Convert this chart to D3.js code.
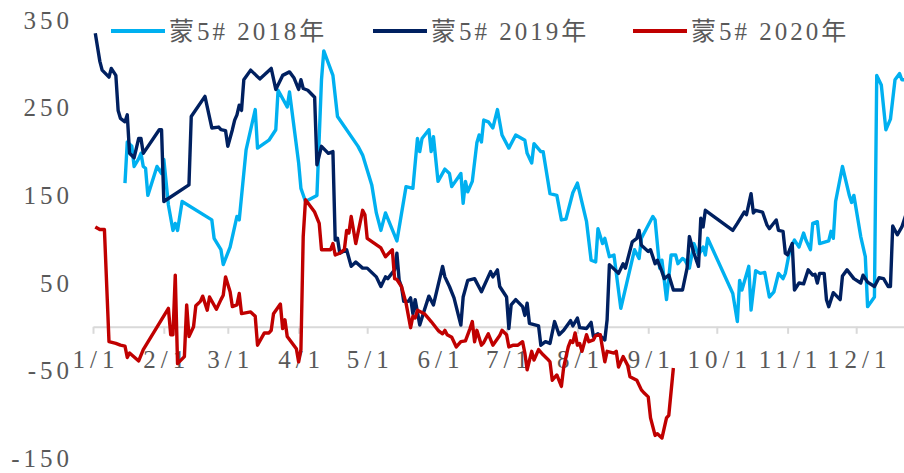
<!DOCTYPE html>
<html>
<head>
<meta charset="utf-8">
<script src="https://d3js.org/d3.v7.min.js"></script>
<style>
  body { margin: 0; background: #fff; }
  text { font-family: "Liberation Serif", "Noto Sans CJK SC", serif; fill: #595959; }
</style>
</head>
<body>
<div id="chart"></div>
<script>
// [day of year (0 = 1/1), spread]
const s2018 = [[14,164],[15,211],[17,206],[18,183],[20,192],[21,198],[22,183],[23,181],[24,150],[28,183],[30,175],[31,191],[33,139],[35,110],[36,118],[37,110],[39,143],[52,122],[53,101],[56,88],[57,71],[60,91],[63,126],[64,122],[67,202],[71,248],[72,204],[77,213],[80,225],[81,270],[85,251],[86,268],[90,187],[91,158],[93,143],[98,150],[100,282],[101,315],[105,287],[107,240],[116,206],[118,196],[120,179],[122,162],[124,130],[126,110],[128,130],[133,98],[137,160],[140,158],[142,215],[143,200],[144,215],[147,225],[148,200],[149,217],[151,166],[154,180],[156,175],[157,160],[161,175],[162,141],[163,166],[164,154],[166,166],[168,210],[169,219],[170,211],[171,236],[173,234],[175,227],[177,248],[179,219],[182,204],[185,219],[189,213],[190,198],[192,187],[193,209],[196,200],[197,200],[200,152],[203,150],[205,122],[207,123],[210,153],[212,164],[216,120],[218,76],[220,74],[221,112],[223,95],[224,101],[226,80],[228,82],[231,21],[237,88],[239,78],[240,101],[245,126],[246,122],[248,67],[249,76],[251,31],[253,82],[255,82],[256,72],[258,78],[259,76],[261,67],[263,95],[265,82],[267,91],[268,82],[269,101],[280,38],[282,6],[283,53],[284,42],[287,69],[288,19],[290,64],[292,61],[294,62],[296,34],[298,40],[300,61],[302,55],[303,61],[305,88],[307,99],[309,91],[311,107],[312,99],[314,88],[315,118],[317,120],[318,95],[322,98],[323,109],[324,101],[325,143],[328,183],[331,150],[332,142],[333,150],[336,103],[338,80],[339,23],[342,34],[343,287],[345,276],[347,225],[349,237],[351,282],[353,289],[354,282],[356,282]];

const s2019 = [[1,335],[3,303],[4,293],[7,285],[8,295],[10,287],[11,247],[12,238],[14,234],[15,242],[16,198],[18,193],[20,215],[21,215],[22,198],[29,225],[30,225],[31,143],[42,162],[43,240],[49,263],[52,227],[55,228],[56,225],[58,224],[59,206],[61,225],[62,236],[63,242],[64,253],[65,247],[66,282],[69,293],[73,283],[78,295],[80,271],[83,287],[86,291],[88,284],[90,271],[91,282],[92,272],[94,270],[97,262],[98,185],[100,206],[103,198],[105,200],[106,99],[107,101],[108,84],[111,88],[113,69],[115,74],[118,67],[120,67],[124,57],[126,46],[128,57],[129,55],[132,65],[133,84],[134,53],[135,46],[136,29],[138,29],[139,33],[140,15],[141,31],[143,2],[145,19],[147,35],[149,25],[153,69],[154,57],[156,46],[158,33],[161,2],[162,34],[164,53],[167,55],[170,40],[174,63],[175,57],[177,65],[178,46],[179,42],[181,34],[182,-2],[183,25],[185,31],[188,23],[189,13],[190,27],[191,4],[195,1],[196,-21],[198,-17],[200,-19],[202,6],[204,-9],[206,-4],[209,7],[210,1],[212,10],[213,-1],[216,-2],[218,5],[219,-11],[221,-8],[224,-15],[225,8],[226,71],[230,61],[232,72],[233,67],[236,97],[238,101],[239,110],[240,93],[243,86],[244,88],[246,72],[247,76],[249,63],[250,55],[252,59],[254,42],[258,42],[260,67],[261,103],[263,84],[265,69],[266,124],[267,114],[268,133],[280,110],[282,118],[285,131],[286,128],[288,152],[289,130],[290,133],[293,131],[295,116],[296,112],[299,122],[300,110],[302,109],[303,84],[304,82],[306,95],[307,42],[309,50],[311,49],[313,65],[315,59],[316,60],[317,50],[318,61],[320,61],[321,31],[322,23],[324,39],[327,31],[328,58],[330,65],[333,55],[336,50],[337,59],[339,51],[342,46],[344,56],[346,55],[348,46],[349,46],[350,115],[352,105],[354,114],[356,130]];

const s2020 = [[1,114],[3,111],[5,111],[7,-17],[10,-19],[12,-21],[14,-22],[15,-35],[16,-30],[20,-39],[22,-26],[33,21],[34,-9],[35,-9],[36,59],[37,-42],[40,-34],[41,25],[42,-11],[44,0],[45,24],[47,29],[48,35],[50,19],[51,34],[54,20],[56,31],[57,36],[58,57],[60,40],[61,23],[63,25],[64,38],[65,15],[69,17],[71,12],[72,-21],[75,-7],[77,-7],[78,-4],[79,15],[82,26],[83,-2],[84,8],[85,-11],[89,-25],[90,-40],[91,-26],[92,103],[93,145],[97,131],[99,118],[100,88],[104,88],[105,95],[106,82],[108,84],[110,88],[111,110],[112,107],[113,126],[115,95],[118,133],[119,128],[120,101],[126,90],[128,80],[131,88],[132,55],[133,54],[135,46],[137,27],[139,-1],[140,12],[141,10],[142,19],[145,15],[147,9],[148,6],[151,-4],[153,-8],[154,-4],[155,-9],[157,-12],[159,-23],[161,-17],[163,-16],[165,-2],[166,6],[167,-17],[168,-4],[170,-21],[171,-18],[173,-8],[175,-21],[178,-10],[179,-4],[181,-9],[182,-23],[184,-21],[186,-21],[188,-17],[189,-30],[190,-49],[192,-28],[193,-38],[195,-26],[197,-32],[199,-37],[200,-40],[201,-61],[203,-55],[205,-68],[206,-46],[208,-23],[209,-16],[210,-18],[211,-7],[212,-21],[213,-19],[214,-28],[216,-9],[217,-17],[219,-15],[220,-10],[222,-9],[224,-40],[225,-28],[228,-30],[229,-28],[230,-46],[232,-34],[234,-44],[235,-57],[238,-61],[240,-72],[241,-75],[243,-80],[244,-104],[246,-124],[247,-122],[249,-127],[251,-104],[252,-101],[254,-47]];

const seriesNames = ["蒙5# 2018年", "蒙5# 2019年", "蒙5# 2020年"];
const seriesColors = ["#00B0F0", "#002060", "#C00000"];
const yTicks = [-150, -50, 50, 150, 250, 350];

const width = 904, height = 473;
const base = new Date(2019, 0, 1);
const toDate = d => d3.timeDay.offset(base, d);
const monthStarts = d3.timeMonth.range(base, new Date(2019, 11, 2));

const x = d3.scaleTime()
  .domain([base, new Date(2020, 0, 1)])
  .range([93, 927]);
const y = d3.scaleLinear().domain([-150, 350]).range([458.2, 20.2]);

const svg = d3.select("#chart").append("svg")
  .attr("width", width).attr("height", height);

// x axis at zero
const xAxis = svg.append("g")
  .attr("transform", `translate(0,${y(0)})`)
  .call(d3.axisBottom(x)
    .tickValues(monthStarts)
    .tickFormat(d3.timeFormat("%-m/%-d"))
    .tickSize(7).tickSizeOuter(0).tickPadding(16));
xAxis.select(".domain").attr("stroke", "#d9d9d9").attr("stroke-width", 2);
xAxis.selectAll(".tick line").attr("stroke", "#d9d9d9").attr("stroke-width", 2);
xAxis.selectAll(".tick text")
  .attr("font-size", 25).attr("letter-spacing", 5).attr("dx", 2.5)
  .style("font-family", '"Liberation Serif", serif').attr("fill", "#595959");

// y labels
const yAxis = svg.append("g")
  .attr("transform", "translate(73,0)")
  .call(d3.axisLeft(y).tickValues(yTicks).tickFormat(d => String(d)).tickSize(0).tickPadding(0));
yAxis.select(".domain").remove();
yAxis.selectAll(".tick text")
  .attr("font-size", 25).attr("letter-spacing", 4)
  .style("font-family", '"Liberation Serif", serif').attr("fill", "#595959");

const line = d3.line().x(d => x(toDate(d[0]))).y(d => y(d[1]));

[s2018, s2019, s2020].forEach((s, i) => {
  svg.append("path")
    .datum(s)
    .attr("fill", "none")
    .attr("stroke", seriesColors[i])
    .attr("stroke-width", 3.4)
    .attr("stroke-linejoin", "round")
    .attr("d", line);
});

// legend
const legendX = [111, 373, 633];
const leg = svg.append("g");
seriesNames.forEach((name, i) => {
  leg.append("line")
    .attr("x1", legendX[i]).attr("x2", legendX[i] + 54)
    .attr("y1", 31).attr("y2", 31)
    .attr("stroke", seriesColors[i]).attr("stroke-width", 4);
  leg.append("text")
    .attr("x", legendX[i] + 58).attr("y", 31)
    .attr("dy", "0.35em")
    .attr("font-size", 25).attr("letter-spacing", 3)
    .text(name);
});
</script>
</body>
</html>
